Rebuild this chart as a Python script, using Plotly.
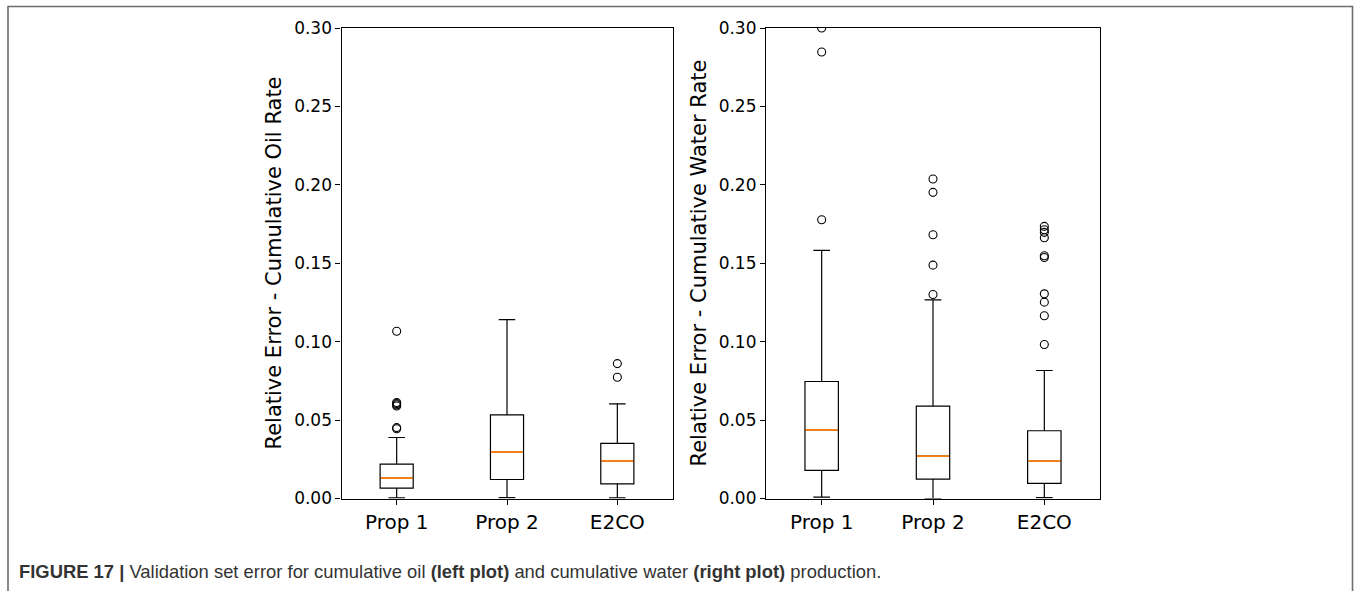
import plotly.graph_objects as go

W, H = 1356, 591

categories = ["Prop 1", "Prop 2", "E2CO"]
positions = [1, 2, 3]

# Left plot: cumulative oil relative error
oil_q1 = [0.0066, 0.0121, 0.0093]
oil_median = [0.0130, 0.0297, 0.0240]
oil_q3 = [0.0219, 0.0533, 0.0352]
oil_low = [0.0004, 0.0006, 0.0004]
oil_high = [0.0389, 0.1140, 0.0603]
oil_out_prop1 = [0.1066, 0.0612, 0.0605, 0.0598, 0.0590, 0.0452, 0.0445]
oil_out_prop2 = []
oil_out_e2co = [0.0860, 0.0773]

# Right plot: cumulative water relative error
water_q1 = [0.0179, 0.0123, 0.0096]
water_median = [0.0438, 0.0270, 0.0238]
water_q3 = [0.0746, 0.0589, 0.0432]
water_low = [0.0009, 0.0000, 0.0006]
water_high = [0.1582, 0.1267, 0.0816]
water_out_prop1 = [0.3000, 0.2847, 0.1777]
water_out_prop2 = [0.2037, 0.1952, 0.1682, 0.1488, 0.1301]
water_out_e2co = [0.1735, 0.1714, 0.1697, 0.1663, 0.1548, 0.1537,
                  0.1305, 0.1252, 0.1165, 0.0982]

y_ticks = [0.00, 0.05, 0.10, 0.15, 0.20, 0.25, 0.30]

BOX_W = 0.3
FONT = "DejaVu Sans"

fig = go.Figure()


def add_panel(q1, med, q3, lo, hi, outliers, xa, ya):
    fig.add_trace(go.Box(
        x=positions, q1=q1, median=med, q3=q3,
        lowerfence=lo, upperfence=hi,
        width=BOX_W, whiskerwidth=0.5, boxpoints=False,
        line=dict(color="black", width=1.2),
        fillcolor="rgba(255,255,255,0)",
        xaxis=xa, yaxis=ya, showlegend=False, hoverinfo="skip",
    ))
    mx, my = [], []
    for p, m in zip(positions, med):
        mx += [p - BOX_W / 2 + 0.005, p + BOX_W / 2 - 0.005, None]
        my += [m, m, None]
    fig.add_trace(go.Scatter(
        x=mx, y=my, mode="lines",
        line=dict(color="#ff7f0e", width=1.8),
        xaxis=xa, yaxis=ya, showlegend=False, hoverinfo="skip",
    ))
    ox, oy = [], []
    for p, vals in zip(positions, outliers):
        ox += [p] * len(vals)
        oy += vals
    fig.add_trace(go.Scatter(
        x=ox, y=oy, mode="markers",
        marker=dict(symbol="circle-open", size=8, color="black",
                    line=dict(width=1.1, color="black")),
        cliponaxis=True,
        xaxis=xa, yaxis=ya, showlegend=False, hoverinfo="skip",
    ))


add_panel(oil_q1, oil_median, oil_q3, oil_low, oil_high,
          [oil_out_prop1, oil_out_prop2, oil_out_e2co], "x", "y")
add_panel(water_q1, water_median, water_q3, water_low, water_high,
          [water_out_prop1, water_out_prop2, water_out_e2co], "x2", "y2")

y_dom = [1 - 498.5 / H, 1 - 28 / H]
xcommon = dict(range=[0.5, 3.5], tickvals=positions, ticktext=categories,
               showgrid=False, zeroline=False, showline=True, mirror=True,
               linecolor="black", linewidth=1.2, ticks="outside", ticklen=5,
               tickwidth=1.1, tickcolor="black", automargin=False,
               tickfont=dict(family=FONT, size=20, color="black"))
ycommon = dict(range=[0, 0.30], tickvals=y_ticks, tickformat=".2f",
               showgrid=False, zeroline=False, showline=True, mirror=True,
               linecolor="black", linewidth=1.2, ticks="outside", ticklen=5,
               tickwidth=1.1, tickcolor="black", automargin=False,
               tickfont=dict(family=FONT, size=17, color="black"),
               domain=y_dom)

fig.update_layout(
    width=W, height=H, autosize=False,
    margin=dict(l=0, r=0, t=0, b=0, pad=0, autoexpand=False),
    paper_bgcolor="white", plot_bgcolor="white",
    xaxis=dict(domain=[341.5 / W, 672.5 / W], anchor="y", **xcommon),
    yaxis=dict(anchor="x", **ycommon),
    xaxis2=dict(domain=[766 / W, 1100 / W], anchor="y2", **xcommon),
    yaxis2=dict(anchor="x2", **ycommon),
)

title_y = 1 - 263 / H
fig.add_annotation(text="Relative Error - Cumulative Oil Rate", textangle=-90,
                   x=273.5 / W, y=title_y, xref="paper", yref="paper",
                   xanchor="center", yanchor="middle", showarrow=False,
                   font=dict(family=FONT, size=21, color="black"))
fig.add_annotation(text="Relative Error - Cumulative Water Rate", textangle=-90,
                   x=698.5 / W, y=title_y, xref="paper", yref="paper",
                   xanchor="center", yanchor="middle", showarrow=False,
                   font=dict(family=FONT, size=21, color="black"))

caption = ("<b>FIGURE 17 |</b> Validation set error for cumulative oil "
           "<b>(left plot)</b> and cumulative water <b>(right plot)</b> production.")
fig.add_annotation(text=caption, x=17 / W, y=1 - 571.5 / H,
                   xref="paper", yref="paper", xanchor="left", yanchor="middle",
                   showarrow=False,
                   font=dict(family="Liberation Sans", size=18.4, color="#333333"))

fig.add_shape(type="rect", xref="paper", yref="paper",
              x0=8 / W, x1=1352.5 / W, y0=-0.2, y1=1 - 6.5 / H,
              line=dict(color="#6e6e6e", width=1.6), layer="above")

fig.write_html("out.html", config={"displayModeBar": False},
               post_script="document.body.style.margin='0px';")
